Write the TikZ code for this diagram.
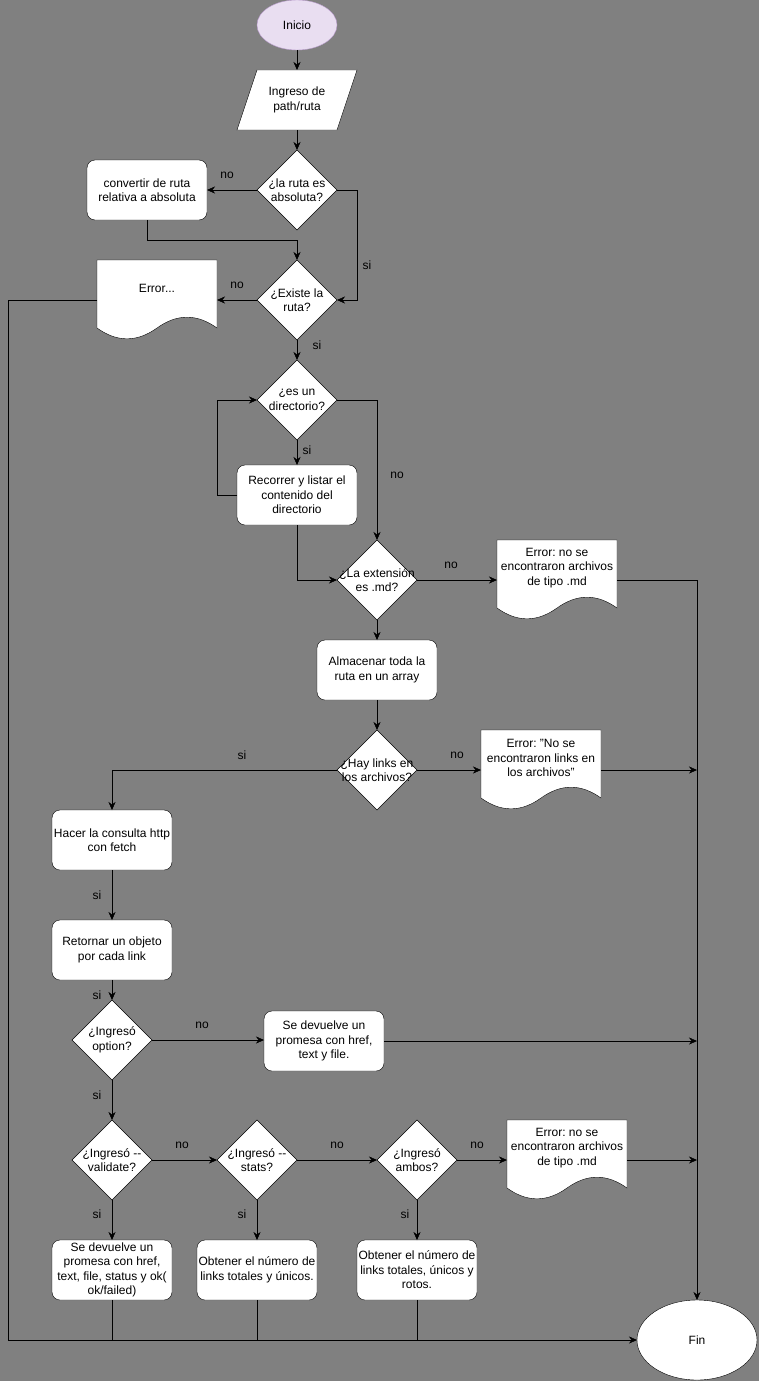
\documentclass[tikz,border=0pt]{standalone}
\usepackage{fontspec}
\setmainfont{Liberation Sans}
\usetikzlibrary{shapes.geometric,arrows.meta,calc}
\pgfdeclarelayer{back}
\pgfdeclarelayer{shapes}
\pgfsetlayers{back,shapes,main}
\definecolor{bggray}{RGB}{128,128,128}
\definecolor{startfill}{RGB}{233,222,241}
\definecolor{startdraw}{RGB}{185,155,205}
\frenchspacing
\begin{document}
\begin{tikzpicture}[x=1pt,y=-1pt,line width=1pt,
  font=\fontsize{12}{14.5}\selectfont\frenchspacing,
  every label/.style={inner sep=0pt, align=center, text=black},
  box/.style={draw=black, fill=white, rounded corners=8pt, minimum width=120pt, minimum height=60pt, inner sep=0pt, outer sep=0pt, align=center},
  dia/.style={diamond, draw=black, fill=white, minimum width=80pt, minimum height=80pt, inner sep=0pt, outer sep=0pt},
  holder/.style={rectangle, draw=none, minimum width=120pt, minimum height=80pt, inner sep=0pt, outer sep=0pt},
  lab/.style={inner sep=0pt, text=black},
  arr/.style={-{Stealth[length=8pt,width=7pt]}},
  docshape/.style={draw=black, fill=white}]

\useasboundingbox (0,0) rectangle (759,1381);
\begin{pgfonlayer}{back}
  \fill[bggray] (0,0) rectangle (759,1381);
\end{pgfonlayer}

% ---- nodes ----
\node[ellipse, draw=startdraw, fill=startfill, minimum width=80pt, minimum height=50pt, inner sep=0pt, outer sep=0pt] (inicio) at (297,25) {Inicio};
\node[rectangle, draw=none, minimum width=120pt, minimum height=60pt, inner sep=0pt, outer sep=0pt, align=center] (ingreso) at (297,100) {Ingreso de\\path/ruta};
\node[dia, label={center:{¿la ruta es\\absoluta?}}] (dabs) at (297,190) {};
\node[box] (conv) at (147,190) {convertir de ruta\\relativa a absoluta};
\node[dia, label={center:{¿Existe la\\ruta?}}] (dexiste) at (297,300) {};
\node[holder, label={[yshift=12pt]center:{Error...}}] (err1) at (157,300) {};
\node[dia, label={center:{¿es un\\directorio?}}] (ddir) at (297,400) {};
\node[box] (recorrer) at (297,495) {Recorrer y listar el\\contenido del\\directorio};
\node[dia, label={center:{¿La extensión\\es .md?}}] (dext) at (377,580) {};
\node[holder, label={[yshift=12pt]center:{Error: no se\\encontraron archivos\\de tipo .md}}] (err2) at (557,580) {};
\node[box] (alm) at (377,670) {Almacenar toda la\\ruta en un array};
\node[dia, label={center:{¿Hay links en\\los archivos?}}] (dlinks) at (377,770) {};
\node[holder, label={[yshift=12pt]center:{Error: "No se\\encontraron links en\\los archivos"}}] (err3) at (541,770) {};
\node[box] (hacer) at (112,840) {Hacer la consulta http\\con fetch};
\node[box] (ret) at (112,950) {Retornar un objeto\\por cada link};
\node[dia, label={center:{¿Ingresó\\option?}}] (dopt) at (112,1040) {};
\node[box] (prom) at (324,1041) {Se devuelve un\\promesa con href,\\text y file.};
\node[dia, label={center:{¿Ingresó -\kern0pt-\\validate?}}] (dval) at (112,1160) {};
\node[dia, label={center:{¿Ingresó -\kern0pt-\\stats?}}] (dstats) at (257,1160) {};
\node[dia, label={center:{¿Ingresó\\ambos?}}] (dambos) at (417,1160) {};
\node[holder, label={[yshift=12pt]center:{Error: no se\\encontraron archivos\\de tipo .md}}] (err4) at (567,1160) {};
\node[box] (r1) at (112,1270) {Se devuelve un\\promesa con href,\\text, file, status y ok(\\ok/failed)};
\node[box] (r2) at (257,1270) {Obtener el número de\\links totales y únicos.};
\node[box] (r3) at (417,1270) {Obtener el número de\\links totales, únicos y\\rotos.};
\node[ellipse, draw=black, fill=white, minimum width=120pt, minimum height=80pt, inner sep=0pt, outer sep=0pt] (fin) at (697,1340) {Fin};

% ---- drawn shapes (parallelogram, documents) ----
\begin{pgfonlayer}{shapes}
  \begin{scope}[shift={(ingreso.center)}]
    \draw[docshape] (-40,-30) -- (60,-30) -- (40,30) -- (-60,30) -- cycle;
  \end{scope}
  \foreach \n in {err1,err2,err3,err4}{
    \begin{scope}[shift={(\n.center)}]
      \draw[docshape] (-60,-40) -- (60,-40) -- (60,28)
        .. controls (40,13.6) and (20,13.6) .. (0,28)
        .. controls (-20,42.4) and (-40,42.4) .. (-60,28) -- cycle;
    \end{scope}
  }
\end{pgfonlayer}

% ---- connectors ----
\draw[arr] (inicio.south) -- (ingreso.north);
\draw[arr] (ingreso.south) -- (dabs.north);
\draw[arr] (dabs.west) -- (conv.east);
\draw[arr] (conv.south) -- ++(0,20) -| (dexiste.north);
\draw[arr] (dabs.east) -- ++(20,0) |- (dexiste.east);
\draw[arr] (dexiste.west) -- (err1.east);
\draw[arr] (err1.west) -- ++(-89,0) |- (fin.west);
\draw[arr] (dexiste.south) -- (ddir.north);
\draw[arr] (ddir.south) -- (recorrer.north);
\draw[arr] (recorrer.west) -- ++(-20,0) |- (ddir.west);
\draw[arr] (ddir.east) -- ++(40,0) -| (dext.north);
\draw[arr] (recorrer.south) |- (dext.west);
\draw[arr] (dext.east) -- (err2.west);
\draw[arr] (err2.east) -- ++(80,0) -| (fin.north);
\draw[arr] (dext.south) -- (alm.north);
\draw[arr] (alm.south) -- (dlinks.north);
\draw[arr] (dlinks.west) -| (hacer.north);
\draw[arr] (dlinks.east) -- (err3.west);
\draw[arr] (err3.east) -- (err3.east -| fin.north);
\draw[arr] (hacer.south) -- (ret.north);
\draw[arr] (ret.south) -- (dopt.north);
\draw[arr] (dopt.east) -- (dopt.east -| prom.west);
\draw[arr] (prom.east) -- (prom.east -| fin.north);
\draw[arr] (dopt.south) -- (dval.north);
\draw[arr] (dval.east) -- (dstats.west);
\draw[arr] (dstats.east) -- (dambos.west);
\draw[arr] (dambos.east) -- (err4.west);
\draw[arr] (err4.east) -- (err4.east -| fin.north);
\draw[arr] (dval.south) -- (r1.north);
\draw[arr] (dstats.south) -- (r2.north);
\draw[arr] (dambos.south) -- (r3.north);
\draw (r1.south) -- (r1.south |- fin.west);
\draw (r2.south) -- (r2.south |- fin.west);
\draw (r3.south) -- (r3.south |- fin.west);

% ---- connector labels ----
\node[lab] (l1) at (227,175) {no};
\node[lab] (l2) at (367,265) {si};
\node[lab] (l3) at (237,285) {no};
\node[lab] (l4) at (317,345) {si};
\node[lab] (l5) at (307,450) {si};
\node[lab] (l6) at (397,475) {no};
\node[lab] (l7) at (451,565) {no};
\node[lab] (l8) at (242,755) {si};
\node[lab] (l9) at (457,755) {no};
\node[lab] (l10) at (97,895) {si};
\node[lab] (l11) at (97,995) {si};
\node[lab] (l12) at (202,1025) {no};
\node[lab] (l13) at (97,1095) {si};
\node[lab] (l14) at (182,1145) {no};
\node[lab] (l15) at (337,1145) {no};
\node[lab] (l16) at (477,1145) {no};
\node[lab] (l17) at (97,1214) {si};
\node[lab] (l18) at (242,1214) {si};
\node[lab] (l19) at (405,1214) {si};
\end{tikzpicture}
\end{document}
